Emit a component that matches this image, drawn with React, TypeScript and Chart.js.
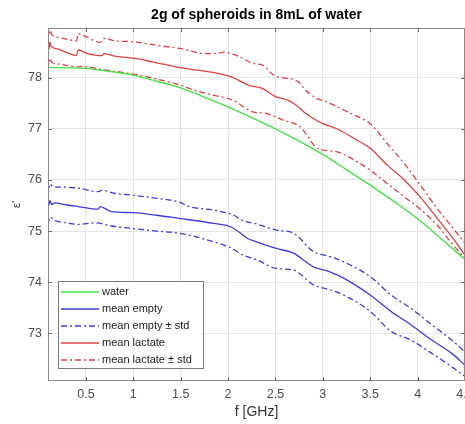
import React, { useEffect, useRef } from 'react';
import { Chart, registerables } from 'chart.js';

Chart.register(...registerables);

// ---------- data ----------
const xTickValues = [0.5, 1, 1.5, 2, 2.5, 3, 3.5, 4, 4.5];
const yTickValues = [73, 74, 75, 76, 77, 78];

const waterF = [0.1, 0.5, 0.75, 1.0, 1.25, 1.5, 1.75, 2.0, 2.25, 2.5, 2.75, 3.0, 3.25, 3.5, 3.75, 4.0, 4.25, 4.5];
const waterV = [78.2, 78.18, 78.12, 78.05, 77.93, 77.8, 77.62, 77.43, 77.22, 77.0, 76.76, 76.5, 76.2, 75.9, 75.58, 75.24, 74.85, 74.45];

const emptyMeanF = [0.1, 0.11, 0.12, 0.14, 0.17, 0.3, 0.42, 0.63, 0.65, 0.77, 1.0, 1.25, 1.48, 1.85, 2.02, 2.16, 2.2, 2.3, 2.51, 2.69, 2.9, 3.08, 3.22, 3.5, 3.72, 3.93, 4.15, 4.36, 4.5];
const emptyMeanV = [75.61, 75.5, 75.6, 75.52, 75.55, 75.51, 75.48, 75.43, 75.48, 75.38, 75.36, 75.31, 75.25, 75.15, 75.09, 74.92, 74.86, 74.79, 74.66, 74.57, 74.3, 74.2, 74.08, 73.75, 73.43, 73.17, 72.87, 72.61, 72.38];

const emptyUpperF = [0.1, 0.11, 0.12, 0.15, 0.25, 0.42, 0.63, 0.67, 0.8, 1.0, 1.25, 1.48, 1.59, 1.85, 2.06, 2.16, 2.3, 2.51, 2.69, 2.9, 3.08, 3.22, 3.5, 3.72, 3.93, 4.15, 4.36, 4.5];
const emptyUpperV = [75.93, 75.85, 75.92, 75.87, 75.86, 75.84, 75.77, 75.8, 75.74, 75.7, 75.64, 75.57, 75.48, 75.41, 75.31, 75.2, 75.14, 75.02, 74.96, 74.6, 74.5, 74.4, 74.11, 73.75, 73.49, 73.17, 72.87, 72.64];

const emptyLowerF = [0.1, 0.11, 0.12, 0.17, 0.3, 0.42, 0.6, 0.77, 1.0, 1.25, 1.48, 1.85, 2.02, 2.16, 2.3, 2.51, 2.69, 2.9, 3.08, 3.22, 3.5, 3.72, 3.93, 4.15, 4.36, 4.5];
const emptyLowerV = [75.28, 75.2, 75.27, 75.21, 75.16, 75.13, 75.16, 75.1, 75.05, 75.0, 74.96, 74.79, 74.68, 74.53, 74.44, 74.27, 74.24, 73.95, 73.85, 73.75, 73.43, 73.04, 72.87, 72.61, 72.35, 72.16];

const lactMeanF = [0.1, 0.11, 0.12, 0.13, 0.2, 0.3, 0.4, 0.42, 0.5, 0.6, 0.67, 0.69, 0.8, 1.0, 1.2, 1.48, 1.7, 1.9, 2.03, 2.22, 2.36, 2.5, 2.63, 2.72, 2.8, 2.9, 3.0, 3.15, 3.33, 3.5, 3.68, 3.86, 4.04, 4.22, 4.36, 4.5];
const lactMeanV = [78.72, 78.55, 78.7, 78.62, 78.56, 78.49, 78.43, 78.54, 78.48, 78.44, 78.43, 78.47, 78.42, 78.38, 78.31, 78.2, 78.14, 78.08, 78.02, 77.85, 77.79, 77.63, 77.56, 77.46, 77.33, 77.2, 77.1, 77.0, 76.81, 76.62, 76.29, 76.0, 75.64, 75.22, 74.89, 74.53];

const lactUpperF = [0.1, 0.11, 0.12, 0.14, 0.2, 0.3, 0.4, 0.42, 0.5, 0.65, 0.7, 0.8, 1.0, 1.25, 1.49, 1.76, 1.91, 1.95, 2.05, 2.12, 2.26, 2.37, 2.48, 2.6, 2.66, 2.76, 2.8, 2.94, 3.01, 3.15, 3.33, 3.5, 3.68, 3.86, 4.04, 4.22, 4.36, 4.5];
const lactUpperV = [78.95, 78.82, 78.93, 78.84, 78.79, 78.75, 78.72, 78.86, 78.8, 78.69, 78.77, 78.72, 78.7, 78.63, 78.57, 78.47, 78.48, 78.5, 78.46, 78.41, 78.28, 78.24, 78.05, 77.99, 77.98, 77.89, 77.79, 77.59, 77.55, 77.43, 77.27, 77.1, 76.71, 76.32, 75.87, 75.41, 75.09, 74.76];

const lactLowerF = [0.1, 0.11, 0.12, 0.14, 0.2, 0.3, 0.42, 0.45, 0.7, 1.0, 1.25, 1.5, 1.63, 1.84, 2.05, 2.26, 2.4, 2.58, 2.76, 2.83, 2.94, 3.15, 3.33, 3.5, 3.68, 3.86, 4.04, 4.22, 4.36, 4.5];
const lactLowerV = [78.36, 78.25, 78.38, 78.3, 78.27, 78.24, 78.21, 78.22, 78.15, 78.07, 77.97, 77.85, 77.76, 77.66, 77.56, 77.33, 77.3, 77.17, 77.04, 76.88, 76.62, 76.55, 76.39, 76.19, 75.93, 75.67, 75.41, 75.09, 74.76, 74.47];

const seriesLabels = ['water', 'mean empty', 'mean empty \u00b1 std', 'mean lactate', 'mean lactate \u00b1 std'];

// ---------- styles ----------
const GREEN = 'rgb(70, 225, 70)';
const BLUE = 'rgb(60, 60, 225)';
const RED = 'rgb(228, 64, 64)';
const DASHDOT = [6, 3, 2, 3];
const FONT = '"Liberation Sans", Arial, Helvetica, sans-serif';

const pts = (f: number[], v: number[]) => f.map((x, i) => ({ x, y: v[i] }));

const frameTicksPlugin = {
  id: 'frameTicks',
  afterDatasetsDraw(chart: any) {
    const { ctx, chartArea: ca, scales } = chart;
    ctx.save();
    ctx.strokeStyle = '#8a8a8a';
    ctx.lineWidth = 1;
    ctx.strokeRect(Math.round(ca.left) + 0.5, Math.round(ca.top) + 0.5, Math.round(ca.right - ca.left) - 1, Math.round(ca.bottom - ca.top) - 1);
    ctx.strokeStyle = '#6a6a6a';
    ctx.beginPath();
    const tl = 4;
    xTickValues.forEach((v) => {
      const px = Math.round(scales.x.getPixelForValue(v)) + 0.5;
      ctx.moveTo(px, ca.bottom);
      ctx.lineTo(px, ca.bottom - tl);
      ctx.moveTo(px, ca.top);
      ctx.lineTo(px, ca.top + tl);
    });
    yTickValues.forEach((v) => {
      const py = Math.round(scales.y.getPixelForValue(v)) + 0.5;
      ctx.moveTo(ca.left, py);
      ctx.lineTo(ca.left + tl, py);
      ctx.moveTo(ca.right, py);
      ctx.lineTo(ca.right - tl, py);
    });
    ctx.stroke();
    ctx.restore();
  },
};

const legendPlugin = {
  id: 'boxLegend',
  afterDraw(chart: any) {
    const { ctx, chartArea: ca } = chart;
    const entries = [0, 1, 2, 4, 5];
    const w = 145;
    const h = 87;
    const rowH = 16.9;
    const x0 = Math.round(ca.left) + 10;
    const y0 = Math.round(ca.bottom) - 13 - h;
    ctx.save();
    ctx.fillStyle = '#ffffff';
    ctx.fillRect(x0, y0, w, h);
    ctx.strokeStyle = '#7a7a7a';
    ctx.lineWidth = 1;
    ctx.strokeRect(x0 + 0.5, y0 + 0.5, w, h);
    ctx.font = `11px ${FONT}`;
    ctx.textBaseline = 'middle';
    ctx.textAlign = 'left';
    entries.forEach((di, k) => {
      const ds = chart.data.datasets[di];
      const cy = Math.round(y0 + 11.3 + k * rowH);
      ctx.strokeStyle = ds.borderColor;
      ctx.lineWidth = 1.3;
      ctx.setLineDash(ds.borderDash || []);
      ctx.beginPath();
      ctx.moveTo(x0 + 3, cy);
      ctx.lineTo(x0 + 41, cy);
      ctx.stroke();
      ctx.setLineDash([]);
      ctx.fillStyle = '#1a1a1a';
      ctx.fillText(seriesLabels[k], x0 + 44, cy);
    });
    ctx.restore();
  },
};

export default function App() {
  const ref = useRef<HTMLCanvasElement | null>(null);

  useEffect(() => {
    document.body.style.margin = '0';
    if (!ref.current) return;
    const base = { pointRadius: 0, borderWidth: 1.3, cubicInterpolationMode: 'monotone', fill: false };
    const chart = new Chart(ref.current, {
      type: 'line',
      data: {
        datasets: [
          { ...base, label: seriesLabels[0], data: pts(waterF, waterV), borderColor: GREEN, borderWidth: 1.4 },
          { ...base, label: seriesLabels[1], data: pts(emptyMeanF, emptyMeanV), borderColor: BLUE },
          { ...base, label: seriesLabels[2], data: pts(emptyUpperF, emptyUpperV), borderColor: BLUE, borderDash: DASHDOT },
          { ...base, label: seriesLabels[2], data: pts(emptyLowerF, emptyLowerV), borderColor: BLUE, borderDash: DASHDOT },
          { ...base, label: seriesLabels[3], data: pts(lactMeanF, lactMeanV), borderColor: RED },
          { ...base, label: seriesLabels[4], data: pts(lactUpperF, lactUpperV), borderColor: RED, borderDash: DASHDOT },
          { ...base, label: seriesLabels[4], data: pts(lactLowerF, lactLowerV), borderColor: RED, borderDash: DASHDOT },
        ] as any,
      },
      options: {
        animation: false,
        responsive: true,
        maintainAspectRatio: false,
        layout: { padding: 0 },
        plugins: {
          legend: { display: false },
          tooltip: { enabled: false },
          title: {
            display: true,
            text: '2g of spheroids in 8mL of water',
            fullSize: false,
            color: '#000000',
            font: { family: FONT, size: 14, weight: 'bold' },
            padding: { top: 6.6, bottom: 4.6 },
          },
        },
        scales: {
          x: {
            type: 'linear',
            min: 0.1,
            max: 4.5,
            afterBuildTicks: (s: any) => {
              s.ticks = xTickValues.map((value) => ({ value }));
            },
            afterFit: (s: any) => {
              s.height = 43;
              s.paddingLeft = 0;
              s.paddingRight = 0;
            },
            ticks: {
              autoSkip: false,
              maxRotation: 0,
              padding: 6.5,
              color: '#4d4d4d',
              font: { family: FONT, size: 12.5 },
              callback: (v: any) => String(v),
            },
            grid: { color: '#e4e4e4', drawTicks: false, lineWidth: 1 },
            border: { display: false },
            title: {
              display: true,
              text: 'f [GHz]',
              color: '#333333',
              font: { family: FONT, size: 14 },
              padding: { top: 0, bottom: 3.6 },
            },
          },
          y: {
            type: 'linear',
            min: 72.07,
            max: 78.97,
            afterBuildTicks: (s: any) => {
              s.ticks = yTickValues.map((value) => ({ value }));
            },
            afterFit: (s: any) => {
              s.width = 48;
              s.paddingTop = 0;
              s.paddingBottom = 0;
            },
            ticks: {
              padding: 6,
              color: '#4d4d4d',
              font: { family: FONT, size: 12.5 },
              callback: (v: any) => String(v),
            },
            grid: { color: '#e4e4e4', drawTicks: false, lineWidth: 1 },
            border: { display: false },
            title: {
              display: true,
              text: "\u03b5'",
              color: '#333333',
              font: { family: FONT, size: 11 },
              padding: { top: 10.5, bottom: 0 },
            },
          },
        },
      } as any,
      plugins: [frameTicksPlugin, legendPlugin],
    });
    return () => chart.destroy();
  }, []);

  return (
    <div style={{ width: 465, height: 424, position: 'relative' }}>
      <canvas ref={ref} />
    </div>
  );
}
